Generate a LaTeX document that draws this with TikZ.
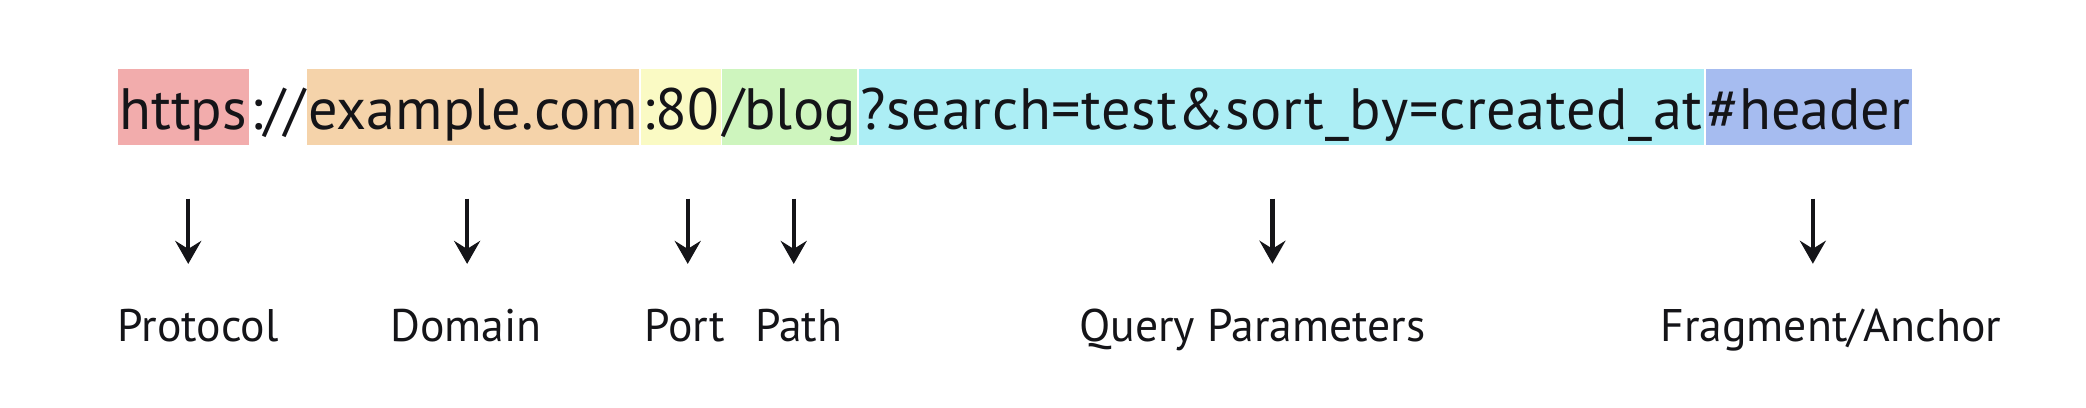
\documentclass[tikz,border=0pt]{standalone}
\usepackage{fontspec}
\setmainfont{PT Sans}
\usepackage{xcolor}
\usepackage{tikz}
\usetikzlibrary{arrows.meta,positioning}
\definecolor{schemered}{RGB}{242,172,172}
\definecolor{hostpeach}{RGB}{245,211,170}
\definecolor{portyellow}{RGB}{250,250,196}
\definecolor{pathgreen}{RGB}{206,245,190}
\definecolor{querycyan}{RGB}{172,238,245}
\definecolor{anchorblue}{RGB}{166,188,240}
\definecolor{inkdark}{RGB}{20,20,24}
\tikzset{
  % --- URL segments -----------------------------------------------------------
  urlpart/.style={
    rectangle, inner xsep=0.5pt, inner ysep=0pt, text height=0.61cm,
    text depth=0.15cm, font=\fontsize{16.6}{20}\selectfont, text=inkdark
  },
  % --- labels under the URL ----------------------------------------------------
  partlabel/.style={font=\fontsize{13}{16}\selectfont, text=inkdark, inner sep=0pt},
  partarrow/.style={-{Stealth[length=2.3mm,width=2.6mm,inset=0.8mm]}, draw=inkdark, line width=1.2pt},
}
\begin{document}
\begin{tikzpicture}[node distance=0pt]
    \useasboundingbox (0,0) rectangle (20.86,-4.08);
    \node[urlpart, fill=schemered, anchor=base west] (https) at (1.17,-1.30) {https};
    \node[urlpart, inner xsep=0pt, right=of https] (sep) {://};
    \node[urlpart, fill=hostpeach, right=of sep] (host) {example.com};
    \node[urlpart, fill=portyellow, right=of host] (port) {:80};
    \node[urlpart, fill=pathgreen, right=of port] (blog) {/blog};
    \node[urlpart, fill=querycyan, right=of blog] (query) {\addfontfeature{LetterSpace=1.1}?search=test\&sort\_by=created\_at};
    \node[urlpart, fill=anchorblue, right=of query] (hash) {\#header};

    \node[partlabel, anchor=base] (protocol) at ([xshift=0.15cm]https.south |- 0,-3.42) {Protocol};
    \node[partlabel, anchor=base] (domain) at ([xshift=-0.07cm]host.south |- 0,-3.42) {Domain};
    \node[partlabel, anchor=base] (portlbl) at ([xshift=0.04cm]port.south |- 0,-3.42) {Port};
    \node[partlabel, anchor=base] (pathlbl) at ([xshift=0.09cm]blog.south |- 0,-3.42) {Path};
    \node[partlabel, anchor=base] (params) at ([xshift=-0.29cm]query.south |- 0,-3.42) {Query Parameters};
    \node[partlabel, anchor=base] (fragment) at ([xshift=0.22cm]hash.south |- 0,-3.42) {Fragment/Anchor};

    \draw[partarrow] ([xshift=0.05cm,yshift=-0.53cm]https.south) -- ([xshift=0.05cm,yshift=0.45cm]https.south |- protocol.north);
    \draw[partarrow] ([xshift=-0.06cm,yshift=-0.53cm]host.south) -- ([xshift=-0.06cm,yshift=0.45cm]host.south |- domain.north);
    \draw[partarrow] ([xshift=0.07cm,yshift=-0.53cm]port.south) -- ([xshift=0.07cm,yshift=0.45cm]port.south |- portlbl.north);
    \draw[partarrow] ([xshift=0.04cm,yshift=-0.53cm]blog.south) -- ([xshift=0.04cm,yshift=0.45cm]blog.south |- pathlbl.north);
    \draw[partarrow] ([xshift=-0.09cm,yshift=-0.53cm]query.south) -- ([xshift=-0.09cm,yshift=0.45cm]query.south |- params.north);
    \draw[partarrow] ([xshift=0.04cm,yshift=-0.53cm]hash.south) -- ([xshift=0.04cm,yshift=0.45cm]hash.south |- fragment.north);
  \end{tikzpicture}
\end{document}
